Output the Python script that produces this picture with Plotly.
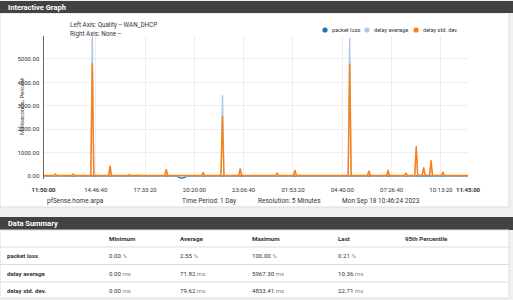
import plotly.graph_objects as go
from datetime import datetime, timedelta

W, H = 513, 300
START = datetime(2023, 9, 17, 11, 50, 0)
END = datetime(2023, 9, 18, 11, 45, 0)
STEP_MIN = 5  # resolution: 5 minutes

# sample numbers (5-minute steps from START)
sample_idx = [0, 4, 7, 8, 9, 13, 19, 20, 21, 26,
              32, 33, 34, 39, 44, 45, 46, 51, 57, 58,
              59, 63, 64, 65, 70, 76, 82, 83, 84, 89,
              90, 91, 92, 93, 94, 95, 96, 97, 102, 107,
              108, 109, 114, 120, 121, 122, 127, 132, 133, 134,
              140, 146, 152, 157, 158, 159, 164, 169, 170, 171,
              176, 181, 182, 183, 188, 194, 195, 196, 201, 206,
              207, 208, 213, 219, 220, 221, 226, 232, 233, 234,
              239, 244, 245, 246, 251, 252, 253, 256, 257, 258,
              261, 262, 263, 266, 269, 270, 271, 276, 281, 287]

packet_loss = [0.2, 0, 0, 0, 0, 0.2, 0, 0, 0, 0.2,
               0, 0, 0, 0.2, 0, 0, 0, 0, 0, 0,
               0, 0, 0, 0, 0.2, 0, 0, 0, 0, 0,
               0, -40, -80, -95, -95, -80, -40, 0, 0.2, 0,
               0, 0, 0, 0, 0, 0, 0.2, 0, 0, 0,
               0, 0.2, 0, 0, 0, 0, 0, 0, 0, 0,
               0.2, 0, 0, 0, 0, 0, 0, 0, 0.2, 0,
               0, 0, 0, 0, 0, 0, 0.2, 0, 0, 0,
               0, 0, 0, 0, 0, 0, 0, 0, 0, 0,
               0, 0, 0, 0, 0, 0, 0, 0, 0.2, 0.21]

delay_average = [12, 10, 12, 40, 12, 10, 11, 40, 11, 10,
                 10, 5967.30, 10, 10, 12, 250, 12, 9, 10, 30,
                 10, 10, 20, 10, 9, 10, 12, 160, 12, 10,
                 10, 10, 10, 10, 10, 10, 10, 10, 10, 12,
                 80, 12, 10, 10, 3450, 10, 10, 12, 200, 12,
                 10, 10, 9, 10, 60, 10, 10, 10, 150, 10,
                 9, 10, 20, 10, 10, 10, 20, 10, 10, 10,
                 5900, 10, 10, 12, 120, 12, 10, 12, 130, 12,
                 10, 10, 60, 10, 12, 1150, 15, 15, 300, 15,
                 15, 520, 15, 12, 12, 90, 12, 10, 12, 10.36]

delay_std_dev = [22, 25, 24, 90, 25, 20, 22, 85, 24, 20,
                 20, 4833.41, 20, 22, 24, 440, 25, 20, 22, 60,
                 22, 20, 40, 20, 18, 20, 24, 290, 24, 20,
                 20, 20, 20, 20, 20, 20, 20, 20, 22, 24,
                 160, 24, 20, 20, 2550, 20, 22, 24, 330, 24,
                 20, 22, 20, 22, 115, 22, 20, 22, 256, 22,
                 20, 22, 40, 22, 20, 22, 40, 22, 20, 20,
                 4800, 20, 22, 24, 226, 24, 20, 24, 256, 24,
                 20, 22, 115, 22, 25, 1280, 30, 30, 370, 30,
                 30, 680, 30, 25, 25, 170, 25, 22, 28, 22.71]

series_names = ["packet loss", "delay average", "delay std. dev."]
series_colors = ["#1f77b4", "#aec7e8", "#ff7f0e"]

x_tick_times = ["2023-09-17 11:50:00", "2023-09-17 14:46:40", "2023-09-17 17:33:20",
                "2023-09-17 20:20:00", "2023-09-17 23:06:40", "2023-09-18 01:53:20",
                "2023-09-18 04:40:00", "2023-09-18 07:26:40", "2023-09-18 10:13:20",
                "2023-09-18 11:45:00"]
x_tick_labels = ["<b>11:50:00</b>", "14:46:40", "17:33:20", "20:20:00", "23:06:40",
                 "01:53:20", "04:40:00", "07:26:40", "10:13:20", "<b>11:45:00</b>"]
y_ticks = [0, 1000, 2000, 3000, 4000, 5000]
y_min, y_max = -120, 5967.30

summary_rows = ["packet loss", "delay average", "delay std. dev."]
summary_cols = ["Minimum", "Average", "Maximum", "Last", "95th Percentile"]
summary_min = [0.00, 0.00, 0.00]
summary_avg = [2.55, 71.82, 79.62]
summary_max = [100.00, 5967.30, 4833.41]
summary_last = [0.21, 10.36, 22.71]
summary_units = ["%", "ms", "ms"]

FONT = "Roboto"
DARK = "#424242"
TXT = "#333333"


def px(x):
    return x / W


def py(y):
    return (H - y) / H


times = [START + timedelta(minutes=STEP_MIN * i) for i in sample_idx]

fig = go.Figure()
for name, vals, col in zip(series_names, [packet_loss, delay_average, delay_std_dev], series_colors):
    fig.add_trace(go.Scatter(x=times, y=vals, mode="lines", name=name,
                             line=dict(color=col, width=1.4), showlegend=False))

shapes = []
anns = []


def rect(x0, y0, x1, y1, fill, line=None, layer="below"):
    shapes.append(dict(type="rect", xref="paper", yref="paper",
                       x0=px(x0), x1=px(x1), y0=py(y1), y1=py(y0),
                       fillcolor=fill, line=dict(color=line or fill, width=1 if line else 0),
                       layer=layer))


def hline(x0, x1, y, color="#dddddd"):
    shapes.append(dict(type="line", xref="paper", yref="paper",
                       x0=px(x0), x1=px(x1), y0=py(y), y1=py(y),
                       line=dict(color=color, width=1), layer="below"))


def text(x, y, s, size=6.2, color=TXT, anchor="left", angle=0):
    anns.append(dict(xref="paper", yref="paper", x=px(x), y=py(y), text=s,
                     showarrow=False, xanchor=anchor, yanchor="middle", textangle=angle,
                     font=dict(family=FONT, size=size, color=color)))


# graph panel
rect(0, 13, 509, 207, "#ffffff", "#dddddd")
rect(0, 1, 513, 13, DARK)
text(6, 7.2, "<b>Interactive Graph</b>", size=7.5, color="#ffffff")
text(68, 25, "Left Axis: Quality -- WAN_DHCP", size=6.3)
text(68, 33.5, "Right Axis: None --", size=6.3)

# legend
legend_x = [325, 367, 416]
for lx, name, col in zip(legend_x, series_names, series_colors):
    shapes.append(dict(type="circle", xref="paper", yref="paper",
                       x0=px(lx - 2.6), x1=px(lx + 2.6), y0=py(30 + 2.6), y1=py(30 - 2.6),
                       fillcolor=col, line=dict(color=col, width=0), layer="above"))
    text(lx + 4.5, 30, name, size=5.6)

text(21, 107, "Milliseconds, Percent", size=6, angle=-90, anchor="center")

# footer
text(45, 200.5, "pfSense.home.arpa", size=6.5)
text(180, 200.5, "Time Period: 1 Day", size=6.5)
text(256, 200.5, "Resolution: 5 Minutes", size=6.5)
text(340, 200.5, "Mon Sep 18 10:46:24 2023", size=6.5)

# data summary panel
rect(0, 217, 513, 230, DARK)
text(6, 223.5, "<b>Data Summary</b>", size=7.5, color="#ffffff")
rect(0, 230, 509, 298, "#ffffff", "#dddddd")
col_x = [107, 178, 250, 336, 403]
for cx, c in zip(col_x, summary_cols):
    text(cx, 238.5, "<b>%s</b>" % c, size=6.2)
row_y = [255.5, 273, 290.5]
for yy in [247, 264.5, 282]:
    hline(0, 509, yy)
for r, name in enumerate(summary_rows):
    y = row_y[r]
    text(5, y, "<b>%s</b>" % name, size=6.1)
    unit = "<span style='color:#888888'>%s</span>" % summary_units[r]
    for cx, v in zip(col_x, [summary_min[r], summary_avg[r], summary_max[r], summary_last[r]]):
        text(cx, y, "%.2f %s" % (v, unit), size=6.1)

x_dom = [43.5 / W, 468 / W]
y_bot = 176 - y_min * 0.0234
y_top = 176 - y_max * 0.0234

fig.update_layout(
    width=W, height=H, margin=dict(l=0, r=0, t=0, b=0, pad=0, autoexpand=False),
    paper_bgcolor="#f0f0f0", plot_bgcolor="rgba(0,0,0,0)",
    font=dict(family=FONT, size=6, color=TXT),
    shapes=shapes, annotations=anns,
    xaxis=dict(type="date", domain=x_dom, range=[START, END], automargin=False,
               tickvals=x_tick_times, ticktext=x_tick_labels, tickangle=0,
               showgrid=True, gridcolor="#eeeeee", gridwidth=1,
               zeroline=False, showline=False,
               ticks="outside", ticklen=5, tickcolor="rgba(0,0,0,0)",
               tickfont=dict(family=FONT, size=6, color=TXT)),
    yaxis=dict(domain=[py(y_bot), py(y_top)], range=[y_min, y_max], automargin=False,
               tickvals=y_ticks, ticktext=["%.2f" % v for v in y_ticks],
               showgrid=True, gridcolor="#eeeeee", gridwidth=1,
               zeroline=False, showline=True, linecolor="#666666", linewidth=1,
               ticks="outside", ticklen=2, tickcolor="rgba(0,0,0,0)",
               tickfont=dict(family=FONT, size=6, color=TXT)),
    showlegend=False,
)

fig.write_html("out.html")
